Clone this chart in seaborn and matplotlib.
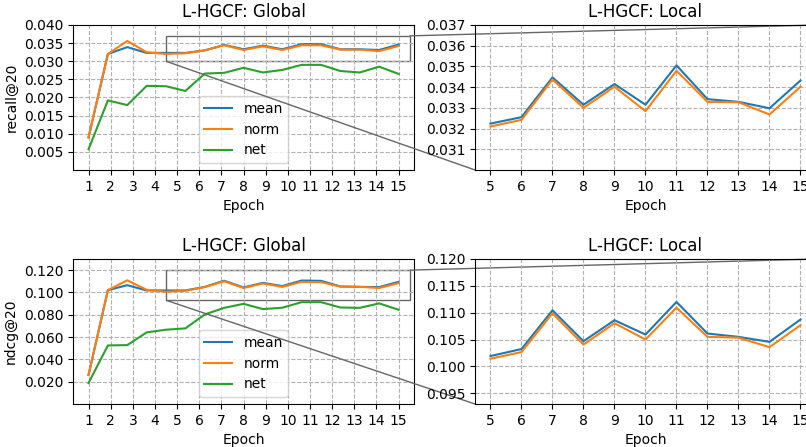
import numpy as np
import pandas as pd
import seaborn as sns
import matplotlib
matplotlib.use("Agg")
import matplotlib.pyplot as plt
from matplotlib.ticker import FormatStrFormatter
from mpl_toolkits.axes_grid1.inset_locator import mark_inset

# ---------------- DATA ----------------
epochs = list(range(1, 16))
global_x = [1, 1.875, 2.75, 3.625, 4.5, 5.375, 6.25, 7.125, 8, 8.875,
            9.75, 10.625, 11.5, 12.375, 13.25, 14.125, 15]
local_x = [5, 6, 7, 8, 9, 10, 11, 12, 13, 14, 15]
methods = ["mean", "norm", "net"]

recall_mean = [0.0090, 0.0320, 0.0339, 0.0323, 0.0323, 0.0323, 0.0330, 0.0345, 0.0333,
               0.0343, 0.0333, 0.0347, 0.0347, 0.0333, 0.0333, 0.0331, 0.0346]
recall_norm = [0.0090, 0.0320, 0.0356, 0.0325, 0.0320, 0.0322, 0.0330, 0.0344, 0.0331,
               0.0341, 0.0331, 0.0344, 0.0344, 0.0332, 0.0332, 0.0328, 0.0342]
recall_net = [0.0057, 0.0192, 0.0179, 0.0232, 0.0231, 0.0218, 0.0266, 0.0268, 0.0282,
              0.0269, 0.0276, 0.0290, 0.0290, 0.0273, 0.0269, 0.0285, 0.0265]

ndcg_mean = [0.0260, 0.1021, 0.1065, 0.1018, 0.1018, 0.1018, 0.1050, 0.1105, 0.1045,
             0.1086, 0.1057, 0.1107, 0.1104, 0.1054, 0.1050, 0.1048, 0.1095]
ndcg_norm = [0.0260, 0.1021, 0.1109, 0.1024, 0.1006, 0.1015, 0.1048, 0.1100, 0.1040,
             0.1080, 0.1050, 0.1095, 0.1092, 0.1052, 0.1050, 0.1040, 0.1083]
ndcg_net = [0.0188, 0.0525, 0.0528, 0.0642, 0.0666, 0.0678, 0.0803, 0.0862, 0.0898,
            0.0851, 0.0863, 0.0913, 0.0913, 0.0865, 0.0862, 0.0902, 0.0845]

recall_local_mean = [0.03224, 0.03255, 0.03447, 0.03315, 0.03415, 0.03315,
                     0.03505, 0.03342, 0.03329, 0.03298, 0.03432]
recall_local_norm = [0.03210, 0.03242, 0.03437, 0.03300, 0.03402, 0.03284,
                     0.03479, 0.03329, 0.03327, 0.03268, 0.03402]
ndcg_local_mean = [0.10193, 0.10323, 0.11044, 0.10469, 0.10860, 0.10593,
                   0.11200, 0.10612, 0.10550, 0.10457, 0.10873]
ndcg_local_norm = [0.10143, 0.10267, 0.10988, 0.10407, 0.10805, 0.10500,
                   0.11095, 0.10550, 0.10535, 0.10358, 0.10768]

recall_ticks = [0.005, 0.010, 0.015, 0.020, 0.025, 0.030, 0.035, 0.040]
ndcg_ticks = [0.020, 0.040, 0.060, 0.080, 0.100, 0.120]
recall_local_ticks = [0.031, 0.032, 0.033, 0.034, 0.035, 0.036, 0.037]
ndcg_local_ticks = [0.095, 0.100, 0.105, 0.110, 0.115, 0.120]

palette = dict(zip(methods, sns.color_palette("tab10", 3)))


def long_df(x, series):
    rows = []
    for name, vals in series.items():
        for xi, v in zip(x, vals):
            rows.append({"Epoch": xi, "value": v, "method": name})
    return pd.DataFrame(rows)


fig = plt.figure(figsize=(8.06, 4.47), dpi=100)

W = 0.4231
H = 0.3244
ax_g1 = fig.add_axes([0.0906, 0.6197, W, H])
ax_l1 = fig.add_axes([0.5893, 0.6197, W, H])
ax_g2 = fig.add_axes([0.0906, 0.0962, W, H])
ax_l2 = fig.add_axes([0.5893, 0.0962, W, H])

rows = [
    (ax_g1, ax_l1, "recall@20",
     {"mean": recall_mean, "norm": recall_norm, "net": recall_net},
     {"mean": recall_local_mean, "norm": recall_local_norm},
     (0.0, 0.040), recall_ticks, (0.030, 0.037), recall_local_ticks),
    (ax_g2, ax_l2, "ndcg@20",
     {"mean": ndcg_mean, "norm": ndcg_norm, "net": ndcg_net},
     {"mean": ndcg_local_mean, "norm": ndcg_local_norm},
     (0.0, 0.130), ndcg_ticks, (0.093, 0.120), ndcg_local_ticks),
]

for ax_g, ax_l, ylabel, g_series, l_series, g_lim, g_ticks, l_lim, l_ticks in rows:
    # ---------------- GLOBAL ----------------
    sns.lineplot(data=long_df(global_x, g_series), x="Epoch", y="value",
                 hue="method", palette=palette, ax=ax_g)
    ax_g.set_title("L-HGCF: Global")
    ax_g.set_xlabel("Epoch")
    ax_g.set_ylabel(ylabel)
    ax_g.set_xticks(epochs)
    ax_g.set_xlim(0.3, 15.7)
    ax_g.set_ylim(*g_lim)
    ax_g.set_yticks(g_ticks)
    ax_g.yaxis.set_major_formatter(FormatStrFormatter("%.3f"))
    ax_g.grid(True, linestyle="--")
    sns.move_legend(ax_g, "lower center", title=None)

    # ---------------- LOCAL ----------------
    sns.lineplot(data=long_df(local_x, l_series), x="Epoch", y="value",
                 hue="method", palette=palette, ax=ax_l, legend=False)
    ax_l.set_title("L-HGCF: Local")
    ax_l.set_xlabel("Epoch")
    ax_l.set_ylabel("")
    ax_l.set_xticks(local_x)
    ax_l.set_xlim(4.5, 15.5)
    ax_l.set_ylim(*l_lim)
    ax_l.set_yticks(l_ticks)
    ax_l.yaxis.set_major_formatter(FormatStrFormatter("%.3f"))
    ax_l.grid(True, linestyle="--")

    mark_inset(ax_g, ax_l, loc1=1, loc2=3, fc="none", ec="0.4")

plt.savefig("out.png", dpi=100)
